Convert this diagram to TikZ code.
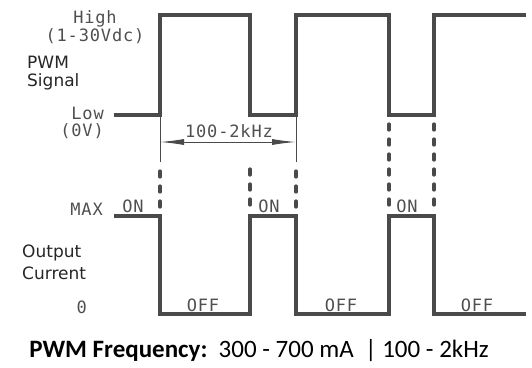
\documentclass[tikz,border=0pt]{standalone}
\usepackage{fontspec}
\setmainfont{Carlito}
\newfontfamily\cadfont[LetterSpace=5]{DejaVu Sans Mono}
\newfontfamily\labelfont{DejaVu Sans}
\usetikzlibrary{arrows.meta}
\definecolor{trace}{HTML}{4A4A4A}
\definecolor{ink}{HTML}{4F4F4F}
\begin{document}
\begin{tikzpicture}[x=1pt,y=-1pt,
    wave/.style={draw=trace,line width=3.2pt},
    guide/.style={draw=trace,line width=3.2pt,dash pattern=on 6pt off 9pt,line cap=round},
    thin/.style={draw=trace,line width=1pt},
    cad/.style={font=\cadfont\fontsize{17}{17}\selectfont,text=ink,inner sep=0pt,anchor=base},
    lbl/.style={font=\labelfont\fontsize{17}{17}\selectfont,text=black!85,inner sep=0pt,anchor=base west}]
  \useasboundingbox (0,0) rectangle (532,367);
  % pwm signal
  \draw[wave] (114,115) -- (160,115) -- (160,15) -- (250,15) -- (250,115) -- (296,115)
    -- (296,15) -- (389,15) -- (389,115) -- (434,115) -- (434,15) -- (526,15);
  % output current
  \draw[wave] (114,216) -- (160,216) -- (160,314) -- (250,314) -- (250,216) -- (296,216)
    -- (296,314) -- (389,314) -- (389,216) -- (434,216) -- (434,314) -- (526,314);
  % guides
  \coordinate (f1) at (160,142);
  \coordinate (f2) at (296,142);
  \draw[thin] (160,115) -- (160,162);
  \draw[thin] (296,115) -- (296,162);
  \draw[guide] (160,171) -- (160,208);
  \draw[guide] (250,169) -- (250,208);
  \draw[guide] (296,171) -- (296,208);
  \draw[guide] (389,124) -- (389,208);
  \draw[guide] (434,124) -- (434,208);
  \draw[thin,{Latex[length=24pt,width=6pt]}-{Latex[length=24pt,width=6pt]}] (f1) -- (f2);
  \node[cad] (freq) at (229,137) {100-2kHz};
  % levels
  \node[cad] (high) at (95,23) {High};
  \node[cad] (range) at (95,41) {(1-30Vdc)};
  \node[cad,anchor=base east] (low) at (104,119) {Low};
  \node[cad,anchor=base east] (zerov) at (104,136) {(0V)};
  \node[cad,anchor=base east] (max) at (103,215) {MAX};
  \node[cad,anchor=base east] (zero) at (87,313) {0};
  \node[lbl] (pwm) at (27,68) {PWM};
  \node[lbl] (signal) at (27,86) {Signal};
  \node[lbl] (output) at (22,257) {Output};
  \node[lbl] (current) at (22,279) {Current};
  % states
  \node[cad] (on1) at (133,212) {ON};
  \node[cad] (on2) at (269,212) {ON};
  \node[cad] (on3) at (407,212) {ON};
  \node[cad] (off1) at (203,311) {OFF};
  \node[cad] (off2) at (341,311) {OFF};
  \node[cad] (off3) at (477,311) {OFF};
  \node[anchor=base,inner sep=0pt,font=\fontsize{25}{25}\selectfont] (caption) at (259,357)
    {\textbf{PWM Frequency:}\ \ 300 - 700 mA \ | 100 - 2kHz};
\end{tikzpicture}
\end{document}
